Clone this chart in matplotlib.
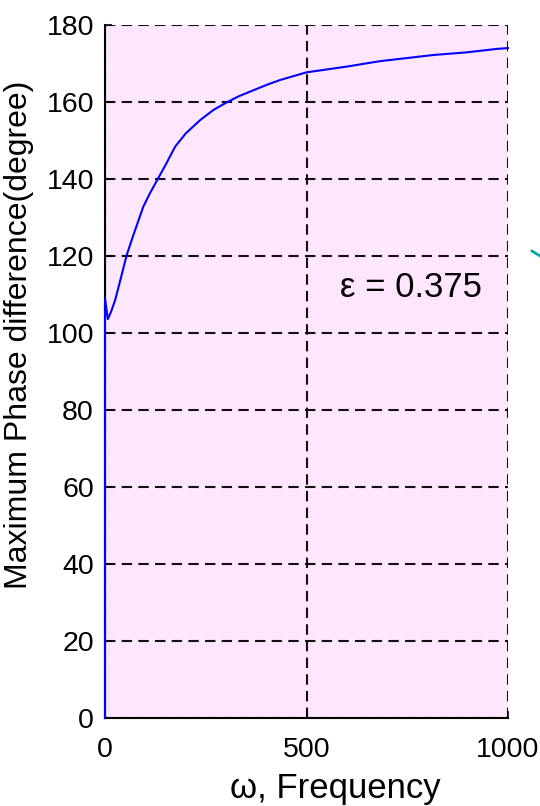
import matplotlib
matplotlib.use("Agg")
import matplotlib.pyplot as plt
from matplotlib.lines import Line2D

# maximum phase difference vs. frequency, eps = 0.375
omega = [0, 0, 7, 15, 25, 35, 54, 70, 95, 110, 132, 150, 174, 200, 236, 270, 302,
         330, 360, 400, 434, 500, 600, 682, 814, 898, 973, 1000]
phase = [0, 109, 103.6, 105.5, 108.5, 112.5, 120.3, 125.3, 132.8, 136, 140.2, 143.6,
         148.4, 151.8, 155.3, 158, 159.9, 161.4, 162.7, 164.4, 165.7, 167.7, 169.2,
         170.6, 172.2, 172.9, 173.8, 174.0]

x_ticks = [0, 500, 1000]
y_ticks = [0, 20, 40, 60, 80, 100, 120, 140, 160, 180]

plt.rcParams['font.family'] = ['Liberation Sans', 'DejaVu Sans']

fig = plt.figure(figsize=(5.4, 8.06), dpi=100)
ax = fig.add_axes([105 / 540, 1 - 718 / 806, 403 / 540, 693 / 806])
ax.set_facecolor("#FFE6FF")

ax.plot(omega, phase, color="#0000FF", lw=1.5, zorder=5, clip_on=False)

ax.set_xlim(0, 1000)
ax.set_ylim(0, 180)
ax.set_xticks(x_ticks)
ax.set_yticks(y_ticks)
ax.grid(True, color="#111111", linestyle=(0, (5, 3)), lw=1.5)
ax.set_axisbelow(True)

for s in ["top", "right"]:
    ax.spines[s].set_visible(False)
for s in ["left", "bottom"]:
    ax.spines[s].set_linewidth(1.5)
    ax.spines[s].set_zorder(2)

ax.tick_params(direction="in", length=5, width=1.2, labelsize=20.5)
ax.tick_params(axis="y", pad=8)
ax.tick_params(axis="x", pad=14)

ax.set_xlabel("ω, Frequency", fontsize=25, va="top")
ax.xaxis.set_label_coords(0.571, -0.078)
ax.set_ylabel("Maximum Phase difference(degree)", fontsize=23, va="bottom")
ax.yaxis.set_label_coords(-0.176, 0.553)

ax.text(583, 109.4, "ε = 0.375", fontsize=25, va="baseline", ha="left")

# small teal mark at the right edge
fig.add_artist(Line2D([532 / 540, 540 / 540], [1 - 251 / 806, 1 - 256 / 806],
                      color="#00A8A8", lw=2))

fig.savefig("out.png", dpi=100)
